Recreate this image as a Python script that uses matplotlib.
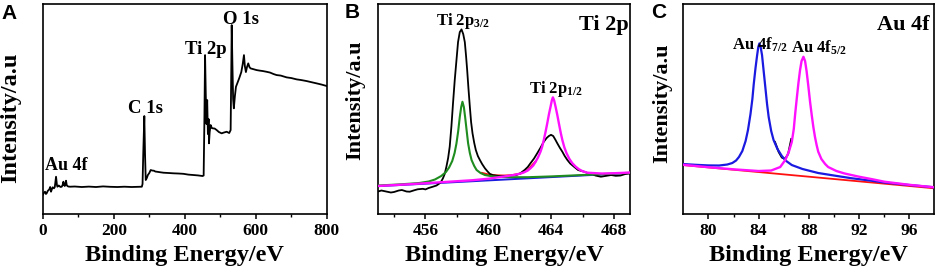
import numpy as np
import matplotlib
matplotlib.use('Agg')
import matplotlib.pyplot as plt

plt.rcParams['font.family'] = 'Liberation Serif'
plt.rcParams['font.weight'] = 'bold'
plt.rcParams['mathtext.fontset'] = 'custom'
plt.rcParams['mathtext.rm'] = 'Liberation Serif:bold'
plt.rcParams['mathtext.it'] = 'Liberation Serif:bold'
plt.rcParams['mathtext.bf'] = 'Liberation Serif:bold'

# --- panel A : survey spectrum ---
survey_e = [0, 3, 6.5, 9, 11, 14, 18.6, 21, 23.3, 26, 28, 31.7, 34, 37.5, 40, 41.3, 45, 47, 50,
            53.5, 56, 58.2, 60, 62, 64, 65.6, 67.5, 69.4, 72, 76.9, 90, 110, 130, 150, 170, 190,
            210, 230, 250, 270, 279, 281, 283, 286, 288, 290, 293, 296, 300, 304, 308, 313, 317,
            321, 330, 340, 355, 368, 382, 396, 410, 424, 437, 450, 453, 455, 457, 459, 461, 463,
            465, 467, 468, 470, 472.7, 476, 479, 484, 489.6, 496, 503.7, 510, 517.8, 525, 529,
            531, 532, 534, 536, 538, 541, 544, 548, 553, 559, 563, 566.5, 569, 572, 575, 578.6,
            582, 585, 592, 602, 610, 620, 630, 640, 650, 658.5, 670, 686.6, 700, 714.7, 728, 743,
            755, 771, 785, 800]
survey_i = [19, 21, 22.3, 20, 20.7, 23, 24.7, 27, 22.3, 25, 26.7, 25.7, 27, 37.3, 29, 27.3, 28.5,
            28, 27, 27.3, 29, 32.3, 29, 28, 30, 33.3, 29, 28, 27.5, 27.3, 27.5, 27, 27.4, 27,
            27.6, 27.2, 27, 27.3, 27, 27.2, 27.3, 30, 60, 98, 60, 34, 36, 39, 41, 44, 43.5, 43.3,
            42.5, 42.3, 41.8, 41.3, 41, 40.7, 40.5, 40.2, 39.4, 39, 38.6, 38, 38.5, 90, 159, 120,
            90, 114, 80, 95, 70.7, 82, 89, 86, 85.7, 85.5, 84, 82, 80.7, 81.5, 82.3, 81, 84, 150,
            189, 150, 115, 105.7, 118, 127.3, 131, 135.7, 142, 150, 159, 148, 142, 147, 150.7,
            147, 145.7, 145, 144, 143.5, 143, 142.3, 141.5, 140, 139, 138.5, 136.7, 136, 134.7,
            134, 133, 132, 130.7, 129.5, 128]

# --- panel B : Ti 2p ---
ti_raw_e = [452.94, 453.2, 453.5, 453.8, 454.0, 454.3, 454.5, 454.8, 455.0, 455.3, 455.5, 455.83,
            456.0, 456.2, 456.47, 456.7, 456.9, 457.0, 457.11, 457.22, 457.33, 457.44, 457.54,
            457.65, 457.75, 457.86, 457.97, 458.07, 458.18, 458.29, 458.4, 458.5, 458.58, 458.65,
            458.73, 458.82, 458.9, 458.99, 459.1, 459.2, 459.33, 459.46, 459.6, 459.78, 459.95,
            460.1, 460.3, 460.53, 460.8, 461.0, 461.3, 461.5, 461.8, 462.03, 462.3, 462.5,
            462.67, 462.9, 463.1, 463.3, 463.52, 463.7, 463.84, 463.98, 464.12, 464.25, 464.38,
            464.55, 464.7, 464.85, 465.02, 465.2, 465.44, 465.7, 466.09, 466.3, 466.5, 466.8,
            467.15, 467.5, 467.8, 468.1, 468.4, 468.7, 469.08]
ti_raw_i = [22.3, 23.5, 22.5, 21.5, 22, 23.5, 24, 22.5, 22.3, 23.8, 24.7, 25.2, 24.6, 26, 27.3,
            28.5, 30.7, 32.5, 35.7, 40, 47.3, 56, 67.3, 88, 110.7, 134, 154, 172, 182, 184.7, 180,
            172, 158, 144, 126, 107.3, 92, 80.7, 71, 64, 58, 54, 50, 45.7, 42.5, 40, 38.8, 38.3,
            37.8, 38, 37.6, 38.6, 39.2, 40.7, 44, 47, 50.7, 55.5, 60.7, 66, 72.3, 76, 78, 79.2,
            78, 74.5, 70.7, 66, 62.3, 58, 54, 50.5, 47.3, 44, 42.3, 41, 40.7, 38.5, 37.3, 38.2,
            39, 38.2, 38.5, 40, 40.7]

ti32_e = [452.94, 454.0, 455.0, 455.6, 456.2, 456.6, 457.0, 457.3, 457.5, 457.7, 457.85, 457.97,
          458.08, 458.18, 458.27, 458.35, 458.44, 458.52, 458.62, 458.71, 458.82, 458.93, 459.1,
          459.25, 459.5, 459.78, 460.2, 460.53, 461.5, 462.5, 464.0, 466.0, 469.08]
ti32_i = [28.5, 29.3, 30.3, 31, 32.5, 34.5, 38, 42, 46.5, 53, 61, 70.7, 83, 97, 107, 112.3, 107,
          97, 83, 70.7, 61, 54, 48, 44, 41, 39, 37.8, 37.3, 36.8, 36.8, 37.6, 39.0, 41.3]

ti12_e = [452.94, 455.0, 457.0, 459.0, 460.0, 460.75, 461.2, 461.6, 462.0, 462.24, 462.5, 462.67,
          462.85, 463.0, 463.15, 463.31, 463.42, 463.52, 463.63, 463.74, 463.85, 463.95, 464.03,
          464.1, 464.18, 464.27, 464.38, 464.48, 464.6, 464.7, 464.83, 464.97, 465.15, 465.34,
          465.55, 465.76, 466.0, 466.3, 467.2, 468.0, 469.08]
ti12_i = [28.0, 29.8, 31.8, 33.8, 35.3, 37, 38, 39, 40.3, 41.5, 43.5, 45.7, 48.5, 52.3, 56.5,
          62.3, 67.5, 74, 82, 90.7, 100, 107.3, 113.5, 116.7, 113.5, 107.3, 99, 90.7, 81, 74,
          66.5, 60.7, 55, 50.7, 47.3, 44.7, 42.7, 41.3, 40.5, 40.8, 41.5]

ti_env_e = [459.6, 460.0, 460.5, 461.0, 461.5, 462.0, 462.5, 463.0]
ti_env_i = [41, 39.5, 38.6, 38.4, 38.8, 40.3, 44, 52.5]

ti_bg_e = [452.94, 469.08]
ti_bg_i = [27.8, 41.1]

# --- panel C : Au 4f ---
au72_e = [77.94, 79.0, 80.0, 80.85, 81.5, 81.9, 82.2, 82.43, 82.7, 82.96, 83.15, 83.35, 83.5,
          83.61, 83.75, 83.87, 83.97, 84.06, 84.16, 84.27, 84.4, 84.54, 84.67, 84.80, 85.0,
          85.19, 85.5, 85.85, 86.2, 86.64, 87.5, 88.75, 90.0, 91.39, 92.97, 94.02, 96.0, 98.0]
au72_i = [50, 49.2, 48.6, 48.5, 49.5, 51, 53.5, 57, 63, 73, 84, 100, 115, 130, 146, 158, 167,
          170.7, 167, 159, 143, 126, 110, 97, 83, 74, 65, 58, 53, 49, 45, 41, 38.5, 35.8, 33.3,
          31.5, 29, 26.7]

au52_e = [77.94, 80.0, 82.0, 84.0, 85.0, 85.72, 86.12, 86.4, 86.64, 86.8, 86.91, 87.05, 87.17,
          87.3, 87.42, 87.57, 87.7, 87.82, 87.96, 88.1, 88.23, 88.36, 88.49, 88.62, 88.75, 89.0,
          89.3, 89.54, 90.2, 90.86, 92.0, 92.97, 94.02, 96.0, 98.0]
au52_i = [49.3, 46.8, 44.7, 43, 43.5, 47, 54, 62, 72, 85, 100, 117, 131, 144, 153, 157.3, 153,
          143, 128, 112, 99, 87, 77, 69, 62.3, 55, 50, 47, 43, 40.5, 37.3, 35, 32.3, 29.2, 26.7]

au_raw_e = [85.3, 85.6, 85.85, 86.1, 86.35, 86.6]
au_raw_i = [72, 62, 56.5, 55, 60, 75]

au_bg_e = [77.94, 98.0]
au_bg_i = [49, 25.7]

fig = plt.figure(figsize=(9.41, 2.74), dpi=100)
axA = fig.add_axes([0.0454, 0.219, 0.302, 0.766])
axB = fig.add_axes([0.402, 0.219, 0.2675, 0.766])
axC = fig.add_axes([0.7262, 0.219, 0.2667, 0.766])

def style(ax, xlim, major, minor, ylab_x, ylab_y, ylab_size):
	ax.set_xlim(*xlim)
	ax.set_ylim(0, 210)
	ax.set_yticks([])
	ax.set_xticks(major)
	ax.set_xticks(minor, minor=True)
	ax.tick_params(axis='x', which='major', direction='out', length=3.5, width=1.1,
	               labelsize=12.5, pad=3)
	ax.tick_params(axis='x', which='minor', direction='out', length=2, width=1)
	for s in ax.spines.values():
		s.set_linewidth(1.2)
	for lab in ax.get_xticklabels():
		lab.set_fontweight('bold')
	ax.set_xlabel('Binding Energy/eV', fontsize=17.5, fontweight='bold', labelpad=4)
	ax.set_ylabel('Intensity/a.u', fontsize=ylab_size, fontweight='bold')
	ax.yaxis.set_label_coords(ylab_x, ylab_y)

style(axA, (0, 800), [0, 200, 400, 600, 800], [100, 300, 500, 700], -0.075, 0.46, 17.5)
style(axB, (453, 469), [456, 460, 464, 468], [454, 458, 462, 466], -0.053, 0.54, 16)
style(axC, (78, 98), [80, 84, 88, 92, 96], [82, 86, 90, 94], -0.045, 0.53, 16)

axA.plot(survey_e, survey_i, color='black', lw=1.3)
axA.text(6, 44, 'Au 4f', fontsize=13, fontweight='bold', ha='left', va='baseline')
axA.text(289, 101, 'C 1s', fontsize=13.5, fontweight='bold', ha='center', va='baseline')
axA.text(459, 160, 'Ti 2p', fontsize=13.5, fontweight='bold', ha='center', va='baseline')
axA.text(559, 190, 'O 1s', fontsize=13.5, fontweight='bold', ha='center', va='baseline')

axB.plot(ti_bg_e, ti_bg_i, color='#1a1ae0', lw=1.4, zorder=1)
axB.plot(ti_env_e, ti_env_i, color='#ff1010', lw=1.5, zorder=2)
axB.plot(ti_raw_e, ti_raw_i, color='black', lw=1.3, zorder=3)
axB.plot(ti32_e, ti32_i, color='#1e8c1e', lw=1.5, zorder=4)
axB.plot(ti12_e, ti12_i, color='#ff10ff', lw=1.7, zorder=5)
axB.text(468.9, 184, 'Ti 2p', fontsize=16, fontweight='bold', ha='right', va='baseline')
axB.text(456.7, 189, r'Ti 2p$_{3/2}$', fontsize=12, fontweight='bold', ha='left', va='baseline')
axB.text(462.6, 121, r'Ti 2p$_{1/2}$', fontsize=12, fontweight='bold', ha='left', va='baseline')

axC.plot(au_raw_e, au_raw_i, color='black', lw=1.4, zorder=1)
axC.plot(au_bg_e, au_bg_i, color='#ff1010', lw=1.3, zorder=2)
axC.plot(au72_e, au72_i, color='#1a1ae0', lw=1.6, zorder=3)
axC.plot(au52_e, au52_i, color='#ff10ff', lw=1.7, zorder=4)
axC.text(97.6, 184, 'Au 4f', fontsize=16, fontweight='bold', ha='right', va='baseline')
axC.text(81.9, 164, r'Au 4f$_{7/2}$', fontsize=12, fontweight='bold', ha='left', va='baseline')
axC.text(86.6, 161, r'Au 4f$_{5/2}$', fontsize=12, fontweight='bold', ha='left', va='baseline')

fig.text(0.002, 0.93, 'A', fontsize=15, fontweight='bold', family='Liberation Sans')
fig.text(0.366, 0.935, 'B', fontsize=15, fontweight='bold', family='Liberation Sans')
fig.text(0.692, 0.935, 'C', fontsize=15, fontweight='bold', family='Liberation Sans')

fig.savefig('out.png', dpi=100)
